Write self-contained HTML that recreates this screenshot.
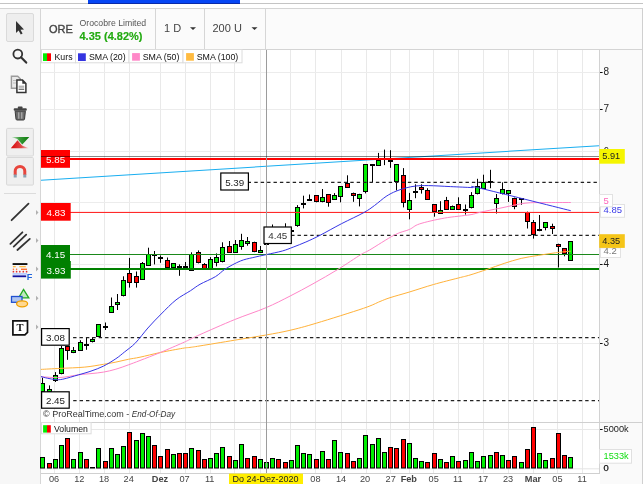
<!DOCTYPE html><html><head><meta charset="utf-8"><style>
html,body{margin:0;padding:0;background:#fff;width:644px;height:484px;overflow:hidden}
svg{display:block;font-family:"Liberation Sans", sans-serif;will-change:transform}
</style></head><body>
<svg width="644" height="484" viewBox="0 0 644 484">
<rect x="0" y="0" width="644" height="484" fill="#fff"/>

<rect x="0" y="3" width="643" height="1" fill="#c4c4c4"/>
<rect x="88" y="0" width="152" height="3" fill="#0646f5"/><rect x="88" y="3" width="152" height="1" fill="#0a2aa8"/>
<rect x="0" y="8" width="40" height="476" fill="#f7f7f7"/>
<rect x="0" y="8" width="643" height="1" fill="#d4d4d4"/>
<rect x="40" y="8" width="1" height="476" fill="#d6d6d6"/>
<rect x="41" y="9" width="601" height="40" fill="#fbfbfb"/>
<rect x="642" y="8" width="1" height="476" fill="#d0d0d0"/>
<rect x="41" y="49" width="601" height="1" fill="#d4d4d4"/>
<rect x="155" y="9" width="1" height="40" fill="#d6d6d6"/>
<rect x="204" y="9" width="1" height="40" fill="#d6d6d6"/>
<rect x="265" y="9" width="1" height="40" fill="#d6d6d6"/>
<text x="49" y="33.2" font-size="11" fill="#444" stroke="#444" stroke-width="0.35">ORE</text>
<text x="79.5" y="25.6" font-size="8.7" fill="#555">Orocobre Limited</text>
<text x="79.5" y="39.5" font-size="11" font-weight="bold" fill="#22aa10" stroke="#22aa10" stroke-width="0.15">4.35 (4.82%)</text>
<text x="164" y="32.1" font-size="11" fill="#444">1 D</text>
<path d="M190,27.3 L196,27.3 L193,30 Z" fill="#333"/>
<text x="212.5" y="32.1" font-size="11" fill="#444">200 U</text>
<path d="M251.5,27.3 L257.5,27.3 L254.5,30 Z" fill="#333"/>
<rect x="41" y="50" width="558" height="423" fill="#fff"/>
<rect x="600" y="50" width="42" height="434" fill="#fafafa"/>
<rect x="599" y="50" width="1" height="423" fill="#d2d2d2"/>
<rect x="54" y="50" width="1" height="423" fill="#e9e9e9"/>
<rect x="79" y="50" width="1" height="423" fill="#e9e9e9"/>
<rect x="104" y="50" width="1" height="423" fill="#e9e9e9"/>
<rect x="129" y="50" width="1" height="423" fill="#e9e9e9"/>
<rect x="160" y="50" width="1" height="423" fill="#e9e9e9"/>
<rect x="185" y="50" width="1" height="423" fill="#e9e9e9"/>
<rect x="210" y="50" width="1" height="423" fill="#e9e9e9"/>
<rect x="234" y="50" width="1" height="423" fill="#e9e9e9"/>
<rect x="260" y="50" width="1" height="423" fill="#e9e9e9"/>
<rect x="290" y="50" width="1" height="423" fill="#e9e9e9"/>
<rect x="315" y="50" width="1" height="423" fill="#e9e9e9"/>
<rect x="341" y="50" width="1" height="423" fill="#e9e9e9"/>
<rect x="366" y="50" width="1" height="423" fill="#e9e9e9"/>
<rect x="390" y="50" width="1" height="423" fill="#e9e9e9"/>
<rect x="409" y="50" width="1" height="423" fill="#e9e9e9"/>
<rect x="433" y="50" width="1" height="423" fill="#e9e9e9"/>
<rect x="458" y="50" width="1" height="423" fill="#e9e9e9"/>
<rect x="483" y="50" width="1" height="423" fill="#e9e9e9"/>
<rect x="508" y="50" width="1" height="423" fill="#e9e9e9"/>
<rect x="533" y="50" width="1" height="423" fill="#e9e9e9"/>
<rect x="557" y="50" width="1" height="423" fill="#e9e9e9"/>
<rect x="582" y="50" width="1" height="423" fill="#e9e9e9"/>
<rect x="41" y="72" width="558" height="1" fill="#ececec"/>
<rect x="41" y="109" width="558" height="1" fill="#ececec"/>
<rect x="41" y="151" width="558" height="1" fill="#ececec"/>
<rect x="41" y="202" width="558" height="1" fill="#ececec"/>
<rect x="41" y="264" width="558" height="1" fill="#ececec"/>
<rect x="41" y="343" width="558" height="1" fill="#ececec"/>
<rect x="41" y="422" width="601" height="1" fill="#d0d0d0"/>
<rect x="41" y="429" width="558" height="1" fill="#e8e8e8"/>
<rect x="41" y="468.3" width="558" height="1" fill="#e4e4e4"/>
<rect x="41" y="473" width="559" height="1" fill="#d0d0d0"/>
<rect x="41" y="474" width="559" height="10" fill="#fff"/>
<rect x="600" y="72" width="2.6" height="1" fill="#111"/>
<text x="603.6" y="75.0" font-size="10" fill="#1a1a1a">8</text>
<rect x="600" y="109" width="2.6" height="1" fill="#111"/>
<text x="603.6" y="112.0" font-size="10" fill="#1a1a1a">7</text>
<rect x="600" y="152" width="2.6" height="1" fill="#111"/>
<text x="603.6" y="155.0" font-size="10" fill="#1a1a1a">6</text>
<rect x="600" y="264" width="2.6" height="1" fill="#111"/>
<text x="603.6" y="267.0" font-size="10" fill="#1a1a1a">4</text>
<rect x="600" y="343" width="2.6" height="1" fill="#111"/>
<text x="603.6" y="346.0" font-size="10" fill="#1a1a1a">3</text>
<rect x="600" y="429" width="2.6" height="1" fill="#111"/>
<text x="603.6" y="431.9" font-size="9.2" fill="#1a1a1a">5000k</text>
<text x="603.6" y="470.7" font-size="9.4" fill="#111" stroke="#111" stroke-width="0.25">0</text>
<defs><clipPath id="cc"><rect x="41" y="50" width="558" height="423"/></clipPath></defs><g clip-path="url(#cc)">
<rect x="42" y="377.7" width="1" height="14.3" fill="#000"/>
<rect x="40.5" y="383.5" width="4" height="8" fill="#00ee00" stroke="#000" stroke-width="1"/>
<rect x="49" y="385.4" width="1" height="7.6" fill="#000"/>
<rect x="47.5" y="389.5" width="4" height="2" fill="#00ee00" stroke="#000" stroke-width="1"/>
<rect x="55" y="372.1" width="1" height="9.9" fill="#000"/>
<rect x="53.5" y="375.5" width="4" height="5" fill="#00ee00" stroke="#000" stroke-width="1"/>
<rect x="61" y="346.0" width="1" height="28.3" fill="#000"/>
<rect x="59.5" y="348.5" width="4" height="25" fill="#00ee00" stroke="#000" stroke-width="1"/>
<rect x="67" y="346.0" width="1" height="13.8" fill="#000"/>
<rect x="65.5" y="346.5" width="4" height="4" fill="#ff0000" stroke="#000" stroke-width="1"/>
<rect x="73" y="347.0" width="1" height="6.1" fill="#000"/>
<rect x="71.5" y="350.5" width="4" height="2" fill="#00ee00" stroke="#000" stroke-width="1"/>
<rect x="80" y="340.2" width="1" height="10.5" fill="#000"/>
<rect x="78.5" y="342.5" width="4" height="8" fill="#00ee00" stroke="#000" stroke-width="1"/>
<rect x="86" y="337.4" width="1" height="12.4" fill="#000"/>
<rect x="84.5" y="344.5" width="4" height="1" fill="#ff0000" stroke="#000" stroke-width="1"/>
<rect x="92" y="337.2" width="1" height="5.2" fill="#000"/>
<rect x="90.5" y="339.5" width="4" height="2" fill="#00ee00" stroke="#000" stroke-width="1"/>
<rect x="98" y="324.3" width="1" height="12.5" fill="#000"/>
<rect x="96.5" y="324.5" width="4" height="12" fill="#00ee00" stroke="#000" stroke-width="1"/>
<rect x="105" y="322.5" width="1" height="7.5" fill="#000"/>
<rect x="103.5" y="326.5" width="4" height="1" fill="#ff0000" stroke="#000" stroke-width="1"/>
<rect x="111" y="297.5" width="1" height="15.2" fill="#000"/>
<rect x="109.5" y="306.5" width="4" height="6" fill="#00ee00" stroke="#000" stroke-width="1"/>
<rect x="117" y="294.0" width="1" height="16.0" fill="#000"/>
<rect x="115.5" y="302.5" width="4" height="2" fill="#00ee00" stroke="#000" stroke-width="1"/>
<rect x="123" y="276.3" width="1" height="20.1" fill="#000"/>
<rect x="121.5" y="280.5" width="4" height="15" fill="#00ee00" stroke="#000" stroke-width="1"/>
<rect x="129" y="257.9" width="1" height="29.7" fill="#000"/>
<rect x="127.5" y="273.5" width="4" height="9" fill="#ff0000" stroke="#000" stroke-width="1"/>
<rect x="136" y="271.5" width="1" height="16.1" fill="#000"/>
<rect x="134.5" y="276.5" width="4" height="6" fill="#ff0000" stroke="#000" stroke-width="1"/>
<rect x="142" y="262.0" width="1" height="17.5" fill="#000"/>
<rect x="140.5" y="263.5" width="4" height="16" fill="#00ee00" stroke="#000" stroke-width="1"/>
<rect x="148" y="247.7" width="1" height="18.2" fill="#000"/>
<rect x="146.5" y="254.5" width="4" height="11" fill="#00ee00" stroke="#000" stroke-width="1"/>
<rect x="154" y="251.0" width="1" height="13.4" fill="#000"/>
<rect x="152.5" y="254.5" width="4" height="1" fill="#2a6a2a" stroke="#000" stroke-width="1"/>
<rect x="160" y="255.4" width="1" height="7.4" fill="#000"/>
<rect x="158.5" y="257.5" width="4" height="1" fill="#ff0000" stroke="#000" stroke-width="1"/>
<rect x="167" y="257.5" width="1" height="10.3" fill="#000"/>
<rect x="165.5" y="260.5" width="4" height="7" fill="#ff0000" stroke="#000" stroke-width="1"/>
<rect x="173" y="263.4" width="1" height="4.7" fill="#000"/>
<rect x="171.5" y="263.5" width="4" height="4" fill="#00ee00" stroke="#000" stroke-width="1"/>
<rect x="179" y="264.4" width="1" height="11.4" fill="#000"/>
<rect x="177.5" y="266.5" width="4" height="1" fill="#2a6a2a" stroke="#000" stroke-width="1"/>
<rect x="185" y="262.0" width="1" height="6.4" fill="#000"/>
<rect x="183.5" y="266.5" width="4" height="1" fill="#2a6a2a" stroke="#000" stroke-width="1"/>
<rect x="191" y="252.3" width="1" height="18.3" fill="#000"/>
<rect x="189.5" y="254.5" width="4" height="16" fill="#00ee00" stroke="#000" stroke-width="1"/>
<rect x="198" y="250.4" width="1" height="13.0" fill="#000"/>
<rect x="196.5" y="252.5" width="4" height="10" fill="#ff0000" stroke="#000" stroke-width="1"/>
<rect x="204" y="263.1" width="1" height="5.5" fill="#000"/>
<rect x="202.5" y="264.5" width="4" height="4" fill="#ff0000" stroke="#000" stroke-width="1"/>
<rect x="210" y="257.1" width="1" height="11.5" fill="#000"/>
<rect x="208.5" y="259.5" width="4" height="9" fill="#00ee00" stroke="#000" stroke-width="1"/>
<rect x="216" y="253.4" width="1" height="13.0" fill="#000"/>
<rect x="214.5" y="257.5" width="4" height="5" fill="#00ee00" stroke="#000" stroke-width="1"/>
<rect x="222" y="242.3" width="1" height="20.1" fill="#000"/>
<rect x="220.5" y="247.5" width="4" height="14" fill="#00ee00" stroke="#000" stroke-width="1"/>
<rect x="229" y="241.0" width="1" height="11.6" fill="#000"/>
<rect x="227.5" y="246.5" width="4" height="6" fill="#ff0000" stroke="#000" stroke-width="1"/>
<rect x="235" y="240.0" width="1" height="12.6" fill="#000"/>
<rect x="233.5" y="244.5" width="4" height="8" fill="#00ee00" stroke="#000" stroke-width="1"/>
<rect x="241" y="233.8" width="1" height="15.9" fill="#000"/>
<rect x="239.5" y="240.5" width="4" height="6" fill="#00ee00" stroke="#000" stroke-width="1"/>
<rect x="247" y="237.0" width="1" height="8.7" fill="#000"/>
<rect x="245.5" y="241.5" width="4" height="2" fill="#00ee00" stroke="#000" stroke-width="1"/>
<rect x="254" y="241.7" width="1" height="10.5" fill="#000"/>
<rect x="252.5" y="242.5" width="4" height="9" fill="#ff0000" stroke="#000" stroke-width="1"/>
<rect x="260" y="246.0" width="1" height="6.6" fill="#000"/>
<rect x="258.5" y="250.5" width="4" height="2" fill="#00ee00" stroke="#000" stroke-width="1"/>
<rect x="266" y="238.0" width="1" height="12.6" fill="#000"/>
<rect x="264.5" y="243.5" width="4" height="1" fill="#000" stroke="#000" stroke-width="1"/>
<rect x="272" y="224.5" width="1" height="15.5" fill="#000"/>
<rect x="270.5" y="230.5" width="4" height="7" fill="#00ee00" stroke="#000" stroke-width="1"/>
<rect x="278" y="228.0" width="1" height="10.0" fill="#000"/>
<rect x="276.5" y="232.5" width="4" height="3" fill="#00ee00" stroke="#000" stroke-width="1"/>
<rect x="285" y="223.3" width="1" height="12.7" fill="#000"/>
<rect x="283.5" y="228.5" width="4" height="5" fill="#ff0000" stroke="#000" stroke-width="1"/>
<rect x="291" y="228.0" width="1" height="6.0" fill="#000"/>
<rect x="289.5" y="230.5" width="4" height="1" fill="#00ee00" stroke="#000" stroke-width="1"/>
<rect x="297" y="205.1" width="1" height="21.7" fill="#000"/>
<rect x="295.5" y="207.5" width="4" height="18" fill="#00ee00" stroke="#000" stroke-width="1"/>
<rect x="303" y="195.7" width="1" height="12.7" fill="#000"/>
<rect x="301.5" y="203.5" width="4" height="1" fill="#ff0000" stroke="#000" stroke-width="1"/>
<rect x="309" y="194.5" width="1" height="6.5" fill="#000"/>
<rect x="307.5" y="199.5" width="4" height="1" fill="#2a6a2a" stroke="#000" stroke-width="1"/>
<rect x="316" y="195.3" width="1" height="7.0" fill="#000"/>
<rect x="314.5" y="195.5" width="4" height="6" fill="#ff0000" stroke="#000" stroke-width="1"/>
<rect x="322" y="189.0" width="1" height="13.3" fill="#000"/>
<rect x="320.5" y="197.5" width="4" height="4" fill="#00ee00" stroke="#000" stroke-width="1"/>
<rect x="328" y="194.4" width="1" height="12.3" fill="#000"/>
<rect x="326.5" y="194.5" width="4" height="8" fill="#ff0000" stroke="#000" stroke-width="1"/>
<rect x="334" y="193.1" width="1" height="6.5" fill="#000"/>
<rect x="332.5" y="195.5" width="4" height="4" fill="#00ee00" stroke="#000" stroke-width="1"/>
<rect x="340" y="186.4" width="1" height="15.9" fill="#000"/>
<rect x="338.5" y="186.5" width="4" height="10" fill="#00ee00" stroke="#000" stroke-width="1"/>
<rect x="347" y="175.3" width="1" height="12.3" fill="#000"/>
<rect x="345.5" y="183.5" width="4" height="4" fill="#ff0000" stroke="#000" stroke-width="1"/>
<rect x="353" y="192.6" width="1" height="9.2" fill="#000"/>
<rect x="351.5" y="193.5" width="4" height="2" fill="#ff0000" stroke="#000" stroke-width="1"/>
<rect x="359" y="193.8" width="1" height="12.6" fill="#000"/>
<rect x="357.5" y="194.5" width="4" height="4" fill="#00ee00" stroke="#000" stroke-width="1"/>
<rect x="365" y="164.2" width="1" height="29.2" fill="#000"/>
<rect x="363.5" y="164.5" width="4" height="27" fill="#00ee00" stroke="#000" stroke-width="1"/>
<rect x="372" y="164.6" width="1" height="17.5" fill="#000"/>
<rect x="370.5" y="164.5" width="4" height="1" fill="#00ee00" stroke="#000" stroke-width="1"/>
<rect x="378" y="152.9" width="1" height="12.7" fill="#000"/>
<rect x="376.5" y="160.5" width="4" height="5" fill="#00ee00" stroke="#000" stroke-width="1"/>
<rect x="384" y="149.6" width="1" height="15.5" fill="#000"/>
<rect x="382.5" y="158.5" width="4" height="1" fill="#2a6a2a" stroke="#000" stroke-width="1"/>
<rect x="390" y="150.2" width="1" height="17.6" fill="#000"/>
<rect x="388.5" y="160.5" width="4" height="1" fill="#2a6a2a" stroke="#000" stroke-width="1"/>
<rect x="396" y="164.0" width="1" height="26.4" fill="#000"/>
<rect x="394.5" y="164.5" width="4" height="17" fill="#00ee00" stroke="#000" stroke-width="1"/>
<rect x="403" y="168.1" width="1" height="39.3" fill="#000"/>
<rect x="401.5" y="175.5" width="4" height="27" fill="#ff0000" stroke="#000" stroke-width="1"/>
<rect x="409" y="192.9" width="1" height="26.4" fill="#000"/>
<rect x="407.5" y="200.5" width="4" height="9" fill="#00ee00" stroke="#000" stroke-width="1"/>
<rect x="415" y="184.3" width="1" height="13.9" fill="#000"/>
<rect x="413.5" y="191.5" width="4" height="1" fill="#00ee00" stroke="#000" stroke-width="1"/>
<rect x="421" y="184.3" width="1" height="9.3" fill="#000"/>
<rect x="419.5" y="187.5" width="4" height="2" fill="#ff0000" stroke="#000" stroke-width="1"/>
<rect x="427" y="188.2" width="1" height="11.6" fill="#000"/>
<rect x="425.5" y="190.5" width="4" height="9" fill="#ff0000" stroke="#000" stroke-width="1"/>
<rect x="434" y="204.5" width="1" height="12.2" fill="#000"/>
<rect x="432.5" y="204.5" width="4" height="7" fill="#ff0000" stroke="#000" stroke-width="1"/>
<rect x="440" y="201.2" width="1" height="12.6" fill="#000"/>
<rect x="438.5" y="210.5" width="4" height="3" fill="#00ee00" stroke="#000" stroke-width="1"/>
<rect x="446" y="196.9" width="1" height="13.0" fill="#000"/>
<rect x="444.5" y="200.5" width="4" height="9" fill="#ff0000" stroke="#000" stroke-width="1"/>
<rect x="452" y="205.5" width="1" height="4.4" fill="#000"/>
<rect x="450.5" y="206.5" width="4" height="3" fill="#00ee00" stroke="#000" stroke-width="1"/>
<rect x="458" y="197.3" width="1" height="12.6" fill="#000"/>
<rect x="456.5" y="204.5" width="4" height="5" fill="#ff0000" stroke="#000" stroke-width="1"/>
<rect x="465" y="204.5" width="1" height="10.1" fill="#000"/>
<rect x="463.5" y="209.5" width="4" height="1" fill="#00ee00" stroke="#000" stroke-width="1"/>
<rect x="471" y="192.1" width="1" height="16.3" fill="#000"/>
<rect x="469.5" y="195.5" width="4" height="12" fill="#00ee00" stroke="#000" stroke-width="1"/>
<rect x="477" y="178.8" width="1" height="15.6" fill="#000"/>
<rect x="475.5" y="186.5" width="4" height="7" fill="#00ee00" stroke="#000" stroke-width="1"/>
<rect x="483" y="174.7" width="1" height="13.9" fill="#000"/>
<rect x="481.5" y="182.5" width="4" height="6" fill="#00ee00" stroke="#000" stroke-width="1"/>
<rect x="490" y="169.8" width="1" height="18.4" fill="#000"/>
<rect x="488.5" y="181.5" width="4" height="1" fill="#ff0000" stroke="#000" stroke-width="1"/>
<rect x="496" y="194.0" width="1" height="19.5" fill="#000"/>
<rect x="494.5" y="198.5" width="4" height="5" fill="#00ee00" stroke="#000" stroke-width="1"/>
<rect x="502" y="182.4" width="1" height="12.0" fill="#000"/>
<rect x="500.5" y="189.5" width="4" height="4" fill="#00ee00" stroke="#000" stroke-width="1"/>
<rect x="508" y="190.4" width="1" height="11.5" fill="#000"/>
<rect x="506.5" y="190.5" width="4" height="3" fill="#00ee00" stroke="#000" stroke-width="1"/>
<rect x="514" y="197.6" width="1" height="11.6" fill="#000"/>
<rect x="512.5" y="198.5" width="4" height="8" fill="#ff0000" stroke="#000" stroke-width="1"/>
<rect x="521" y="198.3" width="1" height="6.5" fill="#000"/>
<rect x="519.5" y="198.5" width="4" height="1" fill="#00ee00" stroke="#000" stroke-width="1"/>
<rect x="527" y="211.6" width="1" height="16.9" fill="#000"/>
<rect x="525.5" y="212.5" width="4" height="9" fill="#ff0000" stroke="#000" stroke-width="1"/>
<rect x="533" y="220.0" width="1" height="18.6" fill="#000"/>
<rect x="531.5" y="222.5" width="4" height="12" fill="#ff0000" stroke="#000" stroke-width="1"/>
<rect x="539" y="215.0" width="1" height="16.2" fill="#000"/>
<rect x="537.5" y="229.5" width="4" height="1" fill="#00ee00" stroke="#000" stroke-width="1"/>
<rect x="545" y="222.4" width="1" height="7.9" fill="#000"/>
<rect x="543.5" y="222.5" width="4" height="5" fill="#00ee00" stroke="#000" stroke-width="1"/>
<rect x="552" y="223.7" width="1" height="10.3" fill="#000"/>
<rect x="550.5" y="226.5" width="4" height="2" fill="#ff0000" stroke="#000" stroke-width="1"/>
<rect x="558" y="243.7" width="1" height="23.8" fill="#000"/>
<rect x="556.5" y="244.5" width="4" height="2" fill="#ff0000" stroke="#000" stroke-width="1"/>
<rect x="564" y="248.5" width="1" height="7.8" fill="#000"/>
<rect x="562.5" y="248.5" width="4" height="5" fill="#ff0000" stroke="#000" stroke-width="1"/>
<rect x="570" y="241.0" width="1" height="20.0" fill="#000"/>
<rect x="568.5" y="241.5" width="4" height="19" fill="#00ee00" stroke="#000" stroke-width="1"/>
</g>
<line x1="41" y1="180.2" x2="599" y2="145.7" stroke="#19aef0" stroke-width="1.05"/>
<rect x="41" y="158" width="558" height="2" fill="#ff0000"/>
<rect x="41" y="211.9" width="558" height="1.1" fill="#ff2a2a"/>
<rect x="41" y="254" width="558" height="1" fill="#1a881a"/>
<rect x="41" y="268" width="558" height="2" fill="#008000"/>
<line x1="254.3" y1="182.4" x2="599" y2="182.4" stroke="#222" stroke-width="1.25" stroke-dasharray="3.4 3.0"/>
<line x1="291.1" y1="235.4" x2="599" y2="235.4" stroke="#222" stroke-width="1.25" stroke-dasharray="3.4 3.0"/>
<line x1="73.1" y1="337.5" x2="599" y2="337.5" stroke="#222" stroke-width="1.25" stroke-dasharray="3.4 3.0"/>
<line x1="73.2" y1="400.5" x2="599" y2="400.5" stroke="#222" stroke-width="1.25" stroke-dasharray="3.4 3.0"/>
<line x1="249" y1="182.4" x2="251" y2="182.4" stroke="#222" stroke-width="1.4"/>
<path d="M41.00,369.40 C44.17,369.23 52.70,368.78 60.00,368.40 C67.30,368.02 77.55,367.78 84.80,367.10 C92.05,366.42 98.32,365.13 103.50,364.30 C108.68,363.47 111.77,362.93 115.90,362.10 C120.03,361.27 124.28,360.12 128.30,359.30 C132.32,358.48 134.67,358.33 140.00,357.20 C145.33,356.07 153.20,353.98 160.30,352.50 C167.40,351.02 177.65,349.15 182.60,348.30 C187.55,347.45 187.10,347.80 190.00,347.40 C192.90,347.00 192.57,347.10 200.00,345.90 C207.43,344.70 223.60,342.02 234.60,340.20 C245.60,338.38 256.77,336.65 266.00,335.00 C275.23,333.35 281.62,332.27 290.00,330.30 C298.38,328.33 304.05,326.87 316.30,323.20 C328.55,319.53 352.88,311.92 363.50,308.30 C374.12,304.68 375.58,303.27 380.00,301.50 C384.42,299.73 385.10,299.28 390.00,297.70 C394.90,296.12 402.15,294.20 409.40,292.00 C416.65,289.80 425.35,286.83 433.50,284.50 C441.65,282.17 452.22,279.58 458.30,278.00 C464.38,276.42 465.20,276.43 470.00,275.00 C474.80,273.57 481.40,271.33 487.10,269.40 C492.80,267.47 498.52,265.23 504.20,263.40 C509.88,261.57 515.52,259.73 521.20,258.40 C526.88,257.07 532.60,256.33 538.30,255.40 C544.00,254.47 549.98,253.52 555.40,252.80 C560.82,252.08 568.23,251.38 570.80,251.10" fill="none" stroke="#ffb23a" stroke-width="1"/>
<path d="M41.00,376.70 C44.17,376.83 53.73,377.82 60.00,377.50 C66.27,377.18 73.43,375.45 78.60,374.80 C83.77,374.15 86.85,374.05 91.00,373.60 C95.15,373.15 99.35,372.83 103.50,372.10 C107.65,371.37 111.77,370.40 115.90,369.20 C120.03,368.00 124.28,366.35 128.30,364.90 C132.32,363.45 134.67,362.57 140.00,360.50 C145.33,358.43 153.20,355.43 160.30,352.50 C167.40,349.57 177.65,345.08 182.60,342.90 C187.55,340.72 187.10,340.78 190.00,339.40 C192.90,338.02 192.57,337.90 200.00,334.60 C207.43,331.30 223.60,324.08 234.60,319.60 C245.60,315.12 256.77,311.62 266.00,307.70 C275.23,303.78 282.17,300.08 290.00,296.10 C297.83,292.12 305.02,288.25 313.00,283.80 C320.98,279.35 329.90,274.28 337.90,269.40 C345.90,264.52 355.72,257.73 361.00,254.50 C366.28,251.27 364.00,253.27 369.60,250.00 C375.20,246.73 387.98,238.32 394.60,234.90 C401.22,231.48 405.13,231.33 409.30,229.50 C413.47,227.67 413.75,225.80 419.60,223.90 C425.45,222.00 436.00,219.62 444.40,218.10 C452.80,216.58 464.07,215.77 470.00,214.80 C475.93,213.83 475.00,213.40 480.00,212.30 C485.00,211.20 492.50,209.72 500.00,208.20 C507.50,206.68 517.50,204.13 525.00,203.20 C532.50,202.27 537.37,202.72 545.00,202.60 C552.63,202.48 566.50,202.52 570.80,202.50" fill="none" stroke="#ff86c8" stroke-width="1"/>
<path d="M41.00,376.60 C42.05,376.87 44.95,377.72 47.30,378.20 C49.65,378.68 52.52,379.33 55.10,379.50 C57.68,379.67 58.88,379.98 62.80,379.20 C66.72,378.42 73.90,376.15 78.60,374.80 C83.30,373.45 86.85,372.55 91.00,371.10 C95.15,369.65 99.35,368.17 103.50,366.10 C107.65,364.03 112.40,361.05 115.90,358.70 C119.40,356.35 121.23,354.63 124.50,352.00 C127.77,349.37 131.60,346.90 135.50,342.90 C139.40,338.90 143.62,332.82 147.90,328.00 C152.18,323.18 156.52,318.68 161.20,314.00 C165.88,309.32 171.12,303.78 176.00,299.90 C180.88,296.02 186.50,293.30 190.50,290.70 C194.50,288.10 195.83,286.65 200.00,284.30 C204.17,281.95 211.23,279.18 215.50,276.60 C219.77,274.02 221.45,271.40 225.60,268.80 C229.75,266.20 235.87,262.87 240.40,261.00 C244.93,259.13 248.40,258.68 252.80,257.60 C257.20,256.52 261.88,255.60 266.80,254.50 C271.72,253.40 277.90,252.23 282.30,251.00 C286.70,249.77 289.27,248.60 293.20,247.10 C297.13,245.60 301.43,243.97 305.90,242.00 C310.37,240.03 314.07,238.35 320.00,235.30 C325.93,232.25 334.20,227.48 341.50,223.70 C348.80,219.92 358.30,215.63 363.80,212.60 C369.30,209.57 370.78,208.20 374.50,205.50 C378.22,202.80 382.52,198.78 386.10,196.40 C389.68,194.02 392.68,192.62 396.00,191.20 C399.32,189.78 402.68,188.77 406.00,187.90 C409.32,187.03 412.12,186.38 415.90,186.00 C419.68,185.62 422.95,185.50 428.70,185.60 C434.45,185.70 443.15,186.27 450.40,186.60 C457.65,186.93 467.27,187.33 472.20,187.60 C477.13,187.87 463.57,184.35 480.00,188.20 C496.43,192.05 555.67,206.95 570.80,210.70" fill="none" stroke="#3636e6" stroke-width="1"/>
<rect x="40.5" y="457.5" width="4" height="10.5" fill="#00ee00" stroke="#000" stroke-width="1"/>
<rect x="47.5" y="463.5" width="4" height="4.5" fill="#ff0000" stroke="#000" stroke-width="1"/>
<rect x="53.5" y="459.5" width="4" height="8.5" fill="#00ee00" stroke="#000" stroke-width="1"/>
<rect x="59.5" y="445.5" width="4" height="22.5" fill="#00ee00" stroke="#000" stroke-width="1"/>
<rect x="65.5" y="438.5" width="4" height="29.5" fill="#ff0000" stroke="#000" stroke-width="1"/>
<rect x="71.5" y="459.5" width="4" height="8.5" fill="#00ee00" stroke="#000" stroke-width="1"/>
<rect x="78.5" y="452.5" width="4" height="15.5" fill="#00ee00" stroke="#000" stroke-width="1"/>
<rect x="84.5" y="459.5" width="4" height="8.5" fill="#ff0000" stroke="#000" stroke-width="1"/>
<rect x="90.5" y="467.5" width="4" height="0.5" fill="#00ee00" stroke="#000" stroke-width="1"/>
<rect x="96.5" y="448.5" width="4" height="19.5" fill="#00ee00" stroke="#000" stroke-width="1"/>
<rect x="103.5" y="461.5" width="4" height="6.5" fill="#ff0000" stroke="#000" stroke-width="1"/>
<rect x="109.5" y="448.5" width="4" height="19.5" fill="#00ee00" stroke="#000" stroke-width="1"/>
<rect x="115.5" y="454.5" width="4" height="13.5" fill="#00ee00" stroke="#000" stroke-width="1"/>
<rect x="121.5" y="446.5" width="4" height="21.5" fill="#00ee00" stroke="#000" stroke-width="1"/>
<rect x="127.5" y="432.5" width="4" height="35.5" fill="#ff0000" stroke="#000" stroke-width="1"/>
<rect x="134.5" y="440.5" width="4" height="27.5" fill="#00ee00" stroke="#000" stroke-width="1"/>
<rect x="140.5" y="433.5" width="4" height="34.5" fill="#00ee00" stroke="#000" stroke-width="1"/>
<rect x="146.5" y="436.5" width="4" height="31.5" fill="#00ee00" stroke="#000" stroke-width="1"/>
<rect x="152.5" y="445.5" width="4" height="22.5" fill="#ff0000" stroke="#000" stroke-width="1"/>
<rect x="158.5" y="456.5" width="4" height="11.5" fill="#ff0000" stroke="#000" stroke-width="1"/>
<rect x="165.5" y="449.5" width="4" height="18.5" fill="#ff0000" stroke="#000" stroke-width="1"/>
<rect x="171.5" y="454.5" width="4" height="13.5" fill="#00ee00" stroke="#000" stroke-width="1"/>
<rect x="177.5" y="453.5" width="4" height="14.5" fill="#ff0000" stroke="#000" stroke-width="1"/>
<rect x="183.5" y="453.5" width="4" height="14.5" fill="#ff0000" stroke="#000" stroke-width="1"/>
<rect x="189.5" y="448.5" width="4" height="19.5" fill="#00ee00" stroke="#000" stroke-width="1"/>
<rect x="196.5" y="450.5" width="4" height="17.5" fill="#ff0000" stroke="#000" stroke-width="1"/>
<rect x="202.5" y="459.5" width="4" height="8.5" fill="#ff0000" stroke="#000" stroke-width="1"/>
<rect x="208.5" y="458.5" width="4" height="9.5" fill="#00ee00" stroke="#000" stroke-width="1"/>
<rect x="214.5" y="453.5" width="4" height="14.5" fill="#00ee00" stroke="#000" stroke-width="1"/>
<rect x="220.5" y="447.5" width="4" height="20.5" fill="#00ee00" stroke="#000" stroke-width="1"/>
<rect x="227.5" y="456.5" width="4" height="11.5" fill="#ff0000" stroke="#000" stroke-width="1"/>
<rect x="233.5" y="460.5" width="4" height="7.5" fill="#00ee00" stroke="#000" stroke-width="1"/>
<rect x="239.5" y="444.5" width="4" height="23.5" fill="#00ee00" stroke="#000" stroke-width="1"/>
<rect x="245.5" y="458.5" width="4" height="9.5" fill="#ff0000" stroke="#000" stroke-width="1"/>
<rect x="252.5" y="456.5" width="4" height="11.5" fill="#ff0000" stroke="#000" stroke-width="1"/>
<rect x="258.5" y="459.5" width="4" height="8.5" fill="#00ee00" stroke="#000" stroke-width="1"/>
<rect x="264.5" y="462.5" width="4" height="5.5" fill="#00ee00" stroke="#000" stroke-width="1"/>
<rect x="270.5" y="458.5" width="4" height="9.5" fill="#00ee00" stroke="#000" stroke-width="1"/>
<rect x="276.5" y="459.5" width="4" height="8.5" fill="#ff0000" stroke="#000" stroke-width="1"/>
<rect x="283.5" y="462.5" width="4" height="5.5" fill="#ff0000" stroke="#000" stroke-width="1"/>
<rect x="289.5" y="460.5" width="4" height="7.5" fill="#00ee00" stroke="#000" stroke-width="1"/>
<rect x="295.5" y="445.5" width="4" height="22.5" fill="#00ee00" stroke="#000" stroke-width="1"/>
<rect x="301.5" y="453.5" width="4" height="14.5" fill="#00ee00" stroke="#000" stroke-width="1"/>
<rect x="307.5" y="454.5" width="4" height="13.5" fill="#00ee00" stroke="#000" stroke-width="1"/>
<rect x="314.5" y="459.5" width="4" height="8.5" fill="#ff0000" stroke="#000" stroke-width="1"/>
<rect x="320.5" y="451.5" width="4" height="16.5" fill="#00ee00" stroke="#000" stroke-width="1"/>
<rect x="326.5" y="459.5" width="4" height="8.5" fill="#ff0000" stroke="#000" stroke-width="1"/>
<rect x="332.5" y="440.5" width="4" height="27.5" fill="#00ee00" stroke="#000" stroke-width="1"/>
<rect x="338.5" y="452.5" width="4" height="15.5" fill="#00ee00" stroke="#000" stroke-width="1"/>
<rect x="345.5" y="453.5" width="4" height="14.5" fill="#ff0000" stroke="#000" stroke-width="1"/>
<rect x="351.5" y="461.5" width="4" height="6.5" fill="#ff0000" stroke="#000" stroke-width="1"/>
<rect x="357.5" y="458.5" width="4" height="9.5" fill="#00ee00" stroke="#000" stroke-width="1"/>
<rect x="363.5" y="435.5" width="4" height="32.5" fill="#00ee00" stroke="#000" stroke-width="1"/>
<rect x="370.5" y="444.5" width="4" height="23.5" fill="#00ee00" stroke="#000" stroke-width="1"/>
<rect x="376.5" y="438.5" width="4" height="29.5" fill="#00ee00" stroke="#000" stroke-width="1"/>
<rect x="382.5" y="452.5" width="4" height="15.5" fill="#00ee00" stroke="#000" stroke-width="1"/>
<rect x="388.5" y="447.5" width="4" height="20.5" fill="#ff0000" stroke="#000" stroke-width="1"/>
<rect x="394.5" y="448.5" width="4" height="19.5" fill="#ff0000" stroke="#000" stroke-width="1"/>
<rect x="401.5" y="439.5" width="4" height="28.5" fill="#ff0000" stroke="#000" stroke-width="1"/>
<rect x="407.5" y="443.5" width="4" height="24.5" fill="#00ee00" stroke="#000" stroke-width="1"/>
<rect x="413.5" y="458.5" width="4" height="9.5" fill="#00ee00" stroke="#000" stroke-width="1"/>
<rect x="419.5" y="461.5" width="4" height="6.5" fill="#00ee00" stroke="#000" stroke-width="1"/>
<rect x="425.5" y="462.5" width="4" height="5.5" fill="#ff0000" stroke="#000" stroke-width="1"/>
<rect x="432.5" y="453.5" width="4" height="14.5" fill="#ff0000" stroke="#000" stroke-width="1"/>
<rect x="438.5" y="459.5" width="4" height="8.5" fill="#00ee00" stroke="#000" stroke-width="1"/>
<rect x="444.5" y="462.5" width="4" height="5.5" fill="#ff0000" stroke="#000" stroke-width="1"/>
<rect x="450.5" y="456.5" width="4" height="11.5" fill="#00ee00" stroke="#000" stroke-width="1"/>
<rect x="456.5" y="461.5" width="4" height="6.5" fill="#ff0000" stroke="#000" stroke-width="1"/>
<rect x="463.5" y="460.5" width="4" height="7.5" fill="#00ee00" stroke="#000" stroke-width="1"/>
<rect x="469.5" y="452.5" width="4" height="15.5" fill="#00ee00" stroke="#000" stroke-width="1"/>
<rect x="475.5" y="461.5" width="4" height="6.5" fill="#00ee00" stroke="#000" stroke-width="1"/>
<rect x="481.5" y="456.5" width="4" height="11.5" fill="#00ee00" stroke="#000" stroke-width="1"/>
<rect x="488.5" y="455.5" width="4" height="12.5" fill="#00ee00" stroke="#000" stroke-width="1"/>
<rect x="494.5" y="452.5" width="4" height="15.5" fill="#ff0000" stroke="#000" stroke-width="1"/>
<rect x="500.5" y="455.5" width="4" height="12.5" fill="#00ee00" stroke="#000" stroke-width="1"/>
<rect x="506.5" y="460.5" width="4" height="7.5" fill="#ff0000" stroke="#000" stroke-width="1"/>
<rect x="512.5" y="456.5" width="4" height="11.5" fill="#ff0000" stroke="#000" stroke-width="1"/>
<rect x="519.5" y="462.5" width="4" height="5.5" fill="#00ee00" stroke="#000" stroke-width="1"/>
<rect x="525.5" y="449.5" width="4" height="18.5" fill="#ff0000" stroke="#000" stroke-width="1"/>
<rect x="531.5" y="427.5" width="4" height="40.5" fill="#ff0000" stroke="#000" stroke-width="1"/>
<rect x="537.5" y="453.5" width="4" height="14.5" fill="#00ee00" stroke="#000" stroke-width="1"/>
<rect x="543.5" y="460.5" width="4" height="7.5" fill="#00ee00" stroke="#000" stroke-width="1"/>
<rect x="550.5" y="458.5" width="4" height="9.5" fill="#ff0000" stroke="#000" stroke-width="1"/>
<rect x="556.5" y="433.5" width="4" height="34.5" fill="#ff0000" stroke="#000" stroke-width="1"/>
<rect x="562.5" y="455.5" width="4" height="12.5" fill="#ff0000" stroke="#000" stroke-width="1"/>
<rect x="568.5" y="457.5" width="4" height="10.5" fill="#00ee00" stroke="#000" stroke-width="1"/>
<rect x="266" y="50" width="1" height="423" fill="#9c9c9c"/>
<rect x="41" y="150" width="29" height="17.8" fill="#ff0000"/>
<text x="55.6" y="162.9" font-size="9.8" fill="#fff" text-anchor="middle">5.85</text>
<rect x="41" y="203" width="29.7" height="17.7" fill="#ff0000"/>
<text x="56.0" y="216" font-size="9.8" fill="#fff" text-anchor="middle">4.83</text>
<rect x="41" y="245" width="29" height="17" fill="#008000"/>
<text x="55.6" y="258.3" font-size="9.8" fill="#fff" text-anchor="middle">4.15</text>
<rect x="41" y="261" width="29.8" height="17.6" fill="#008000"/>
<text x="56.0" y="273.7" font-size="9.8" fill="#fff" text-anchor="middle">3.93</text>
<rect x="220.8" y="173" width="27.6" height="17" fill="#fff" stroke="#000" stroke-width="1.2"/>
<text x="234.7" y="185.8" font-size="9.8" fill="#222" text-anchor="middle">5.39</text>
<rect x="264" y="227" width="27.3" height="16.5" fill="#fff" stroke="#000" stroke-width="1.2"/>
<text x="277.8" y="239" font-size="9.8" fill="#333" text-anchor="middle">4.45</text>
<rect x="41.6" y="328.6" width="27.6" height="16.6" fill="#fff" stroke="#000" stroke-width="1.2"/>
<text x="55.5" y="340.9" font-size="9.8" fill="#222" text-anchor="middle">3.08</text>
<rect x="41.6" y="391.8" width="27.6" height="16.4" fill="#fff" stroke="#000" stroke-width="1.2"/>
<text x="55.5" y="403.9" font-size="9.8" fill="#222" text-anchor="middle">2.45</text>
<rect x="41" y="156" width="558" height="1" fill="#000" fill-opacity="0.47"/>
<rect x="599.2" y="149" width="25.6" height="14.7" fill="#f5f500"/>
<text x="611.3" y="158.9" font-size="9.2" fill="#222" text-anchor="middle">5.91</text>
<rect x="600.5" y="204.5" width="24" height="12.8" fill="#fff" stroke="#e2e2e2" stroke-width="1"/>
<text x="603.5" y="213" font-size="9.5" fill="#3a3ae8">4.85</text>
<rect x="599.5" y="194.5" width="13" height="12.3" fill="#fff" stroke="#e2e2e2" stroke-width="1"/>
<text x="603.5" y="204" font-size="9.5" fill="#ff66bb">5</text>
<rect x="600.5" y="247.9" width="20" height="9.6" fill="#fff" stroke="#e2e2e2" stroke-width="1"/>
<text x="603.5" y="253.9" font-size="9.5" fill="#777">4.2</text>
<rect x="599.2" y="234.2" width="25.6" height="13.7" fill="#f5c518"/>
<text x="611.3" y="244.3" font-size="9.2" fill="#222" text-anchor="middle">4.35</text>
<rect x="599.5" y="449.5" width="32" height="13.7" fill="#fff" stroke="#e0e0e0" stroke-width="1"/>
<text x="603.6" y="459" font-size="9.2" fill="#11dd11">1533k</text>
<rect x="41.5" y="49.5" width="34.0" height="13.3" fill="#fff" stroke="#dcdcdc" stroke-width="1"/>
<rect x="75.5" y="49.5" width="53.5" height="13.3" fill="#fff" stroke="#dcdcdc" stroke-width="1"/>
<rect x="129" y="49.5" width="54" height="13.3" fill="#fff" stroke="#dcdcdc" stroke-width="1"/>
<rect x="183" y="49.5" width="59" height="13.3" fill="#fff" stroke="#dcdcdc" stroke-width="1"/>
<rect x="43" y="53.3" width="4" height="7.7" fill="#00ee00"/><rect x="47" y="53.3" width="4" height="7.7" fill="#ff0000"/>
<text x="54.5" y="59.9" font-size="8.8" fill="#111">Kurs</text>
<rect x="78" y="53.3" width="7.8" height="7.7" fill="#3434e0"/>
<text x="89" y="59.9" font-size="8.8" fill="#111">SMA (20)</text>
<rect x="132.1" y="53.1" width="7.8" height="7.6" fill="#ff88c8"/>
<text x="142.7" y="59.9" font-size="8.8" fill="#111">SMA (50)</text>
<rect x="186.1" y="53.1" width="7.8" height="7.6" fill="#ffbb40"/>
<text x="196.7" y="59.9" font-size="8.8" fill="#111">SMA (100)</text>
<text x="43" y="416.8" font-size="9" fill="#333">© ProRealTime.com - <tspan font-style="italic" font-size="8.2">End-Of-Day</tspan></text>
<rect x="41.5" y="422.5" width="49.6" height="11.3" fill="#fff" stroke="#dcdcdc" stroke-width="1"/>
<rect x="43.1" y="425.2" width="3.9" height="7.4" fill="#00ee00"/><rect x="47" y="425.2" width="3.8" height="7.4" fill="#ff0000"/>
<text x="54" y="432" font-size="8.7" fill="#111">Volumen</text>
<text x="54.1" y="482" font-size="9.2" fill="#444" text-anchor="middle">06</text>
<text x="79.3" y="482" font-size="9.2" fill="#444" text-anchor="middle">12</text>
<text x="104.1" y="482" font-size="9.2" fill="#444" text-anchor="middle">18</text>
<text x="128.7" y="482" font-size="9.2" fill="#444" text-anchor="middle">24</text>
<text x="160" y="482" font-size="9.2" fill="#444" text-anchor="middle" font-weight="bold">Dez</text>
<text x="184.6" y="482" font-size="9.2" fill="#444" text-anchor="middle">07</text>
<text x="209.7" y="482" font-size="9.2" fill="#444" text-anchor="middle">11</text>
<text x="315.4" y="482" font-size="9.2" fill="#444" text-anchor="middle">08</text>
<text x="341" y="482" font-size="9.2" fill="#444" text-anchor="middle">14</text>
<text x="365.1" y="482" font-size="9.2" fill="#444" text-anchor="middle">20</text>
<text x="390.7" y="482" font-size="9.2" fill="#444" text-anchor="middle">27</text>
<text x="408.8" y="482" font-size="9.2" fill="#444" text-anchor="middle" font-weight="bold">Feb</text>
<text x="433.7" y="482" font-size="9.2" fill="#444" text-anchor="middle">05</text>
<text x="457.8" y="482" font-size="9.2" fill="#444" text-anchor="middle">11</text>
<text x="483" y="482" font-size="9.2" fill="#444" text-anchor="middle">17</text>
<text x="508" y="482" font-size="9.2" fill="#444" text-anchor="middle">23</text>
<text x="533" y="482" font-size="9.2" fill="#444" text-anchor="middle" font-weight="bold">Mar</text>
<text x="557.4" y="482" font-size="9.2" fill="#444" text-anchor="middle">05</text>
<text x="582" y="482" font-size="9.2" fill="#444" text-anchor="middle">11</text>
<rect x="229" y="473.6" width="74" height="10.4" fill="#ffee00"/>
<text x="265.5" y="482" font-size="9" fill="#222" text-anchor="middle">Do 24-Dez-2020</text>
<rect x="6.5" y="13.5" width="27" height="28" rx="1.5" fill="#eeeeee" stroke="#dadada" stroke-width="1"/>
<path d="M16,21 L16,33 L18.6,30.6 L20.8,34.6 L22.6,33.6 L20.5,29.8 L24,29.6 Z" fill="#333"/>
<circle cx="17.8" cy="54.1" r="4.4" fill="none" stroke="#333" stroke-width="1.8"/><line x1="21" y1="57.3" x2="26.2" y2="62.6" stroke="#333" stroke-width="2.2" stroke-linecap="round"/>
<path d="M11.4,76.2 h6.3 l2.6,2.6 v9.4 h-8.9 z" fill="#e9e9e9" stroke="#9c9c9c" stroke-width="1.4"/>
<rect x="13" y="80" width="3" height="1" fill="#bbb"/><rect x="13" y="82.5" width="3" height="1" fill="#bbb"/>
<path d="M16.9,80.1 h5.6 l3.4,3.4 v9 h-9 z" fill="#fff" stroke="#333" stroke-width="1.5"/>
<path d="M22.3,80.1 v3.6 h3.6 z" fill="#333"/>
<rect x="18.6" y="85.6" width="5.6" height="2.2" fill="#b4b4b4"/><rect x="18.6" y="88.7" width="5.6" height="1.1" fill="#555"/>
<rect x="17.8" y="106.5" width="4.8" height="2.4" rx="0.8" fill="#444"/>
<rect x="13.7" y="108.3" width="13.1" height="2.4" rx="1" fill="#444"/>
<path d="M15.1,111.2 h10.3 l-0.9,8 q-0.2,0.8 -1,0.8 h-6.5 q-0.8,0 -1,-0.8 z" fill="#6c6c6c" stroke="#3c3c3c" stroke-width="1"/>
<rect x="18.3" y="112.3" width="1" height="6.4" fill="#bdbdbd"/><rect x="21.3" y="112.3" width="1" height="6.4" fill="#bdbdbd"/>
<rect x="6.6" y="128.4" width="26.8" height="27.6" rx="1" fill="#efefef" stroke="#d8d8d8" stroke-width="1"/>
<rect x="6.6" y="157.5" width="26.8" height="27.6" rx="1" fill="#efefef" stroke="#d8d8d8" stroke-width="1"/>
<defs><linearGradient id="gg" x1="0" x2="1"><stop offset="0" stop-color="#c8e8c8"/><stop offset="0.45" stop-color="#3a9a3a"/><stop offset="1" stop-color="#0a7a0a"/></linearGradient><linearGradient id="rg" x1="0" x2="1"><stop offset="0" stop-color="#d80808"/><stop offset="0.6" stop-color="#e04848"/><stop offset="1" stop-color="#f4c8c8"/></linearGradient></defs>
<path d="M11.4,137.1 L29.3,137.1 L22.3,144.4 L17.3,139 Z" fill="url(#gg)"/>
<path d="M10.8,148.2 L17.5,140.3 L22,145.4 L28.7,148.2 Z" fill="url(#rg)"/>
<path d="M15.2,175 V171.2 A4.8,4.8 0 0 1 24.8,171.2 V175" fill="none" stroke="#e8453c" stroke-width="3"/>
<rect x="13.7" y="174.5" width="3" height="3" fill="#8aa0b0"/><rect x="23.3" y="174.5" width="3" height="3" fill="#8aa0b0"/>
<rect x="4" y="193" width="32" height="1" fill="#dcdcdc"/>
<line x1="11.6" y1="220.2" x2="28.5" y2="203.6" stroke="#333" stroke-width="1.8" stroke-linecap="round"/>
<line x1="10.4" y1="243.8" x2="22.4" y2="232.3" stroke="#333" stroke-width="1.8" stroke-linecap="round"/>
<line x1="13.7" y1="246.6" x2="26.2" y2="234.7" stroke="#333" stroke-width="1.8" stroke-linecap="round"/>
<line x1="17.4" y1="250" x2="29.8" y2="238.9" stroke="#333" stroke-width="1.8" stroke-linecap="round"/>
<path d="M36,209.9 L38.5,212.4 L36,214.9 Z" fill="#b0b0b0"/>
<path d="M36,238.0 L38.5,240.5 L36,243.0 Z" fill="#b0b0b0"/>
<path d="M36,266.5 L38.5,269 L36,271.5 Z" fill="#b0b0b0"/>
<path d="M36,295.8 L38.5,298.3 L36,300.8 Z" fill="#b0b0b0"/>
<path d="M36,324.5 L38.5,327 L36,329.5 Z" fill="#b0b0b0"/>
<rect x="12.6" y="263.1" width="14.8" height="1.9" fill="#111"/>
<rect x="12.9" y="266" width="2.8" height="1.3" fill="#ffbb44"/><rect x="19.3" y="266" width="6.5" height="1.3" fill="#ffbb44"/>
<circle cx="13.4" cy="269.3" r="0.8" fill="#ff7030"/><circle cx="16.6" cy="269.3" r="0.8" fill="#ff7030"/><rect x="21" y="268.6" width="6" height="1.4" fill="#ff7030"/>
<circle cx="13.4" cy="271.7" r="0.85" fill="#e03030"/>
<circle cx="16.6" cy="271.7" r="0.85" fill="#e03030"/>
<circle cx="19.8" cy="271.7" r="0.85" fill="#e03030"/>
<circle cx="23.3" cy="271.7" r="0.85" fill="#e03030"/>
<circle cx="26.6" cy="271.7" r="0.85" fill="#e03030"/>
<rect x="12.6" y="273" width="14.4" height="1.8" fill="#b8ccff"/>
<rect x="12.6" y="275.4" width="13.6" height="1.8" fill="#1010a0"/>
<text x="26.8" y="279.9" font-size="9.2" font-weight="bold" fill="#2266dd">F</text>
<path d="M23.5,289.4 L28.8,297.8 L18.6,297.8 Z" fill="#bfe9bf" stroke="#22aa22" stroke-width="1.3"/>
<rect x="11.5" y="296.5" width="10.5" height="5.8" fill="#aec4f0" stroke="#2050d0" stroke-width="1.3"/>
<ellipse cx="22.1" cy="303.8" rx="5.5" ry="3" fill="#ffd890" stroke="#f0a000" stroke-width="1.3"/>
<path d="M12.9,320.9 h14.6 v11.4 l-2.6,2.6 h-12 z" fill="#fff" stroke="#111" stroke-width="1.7"/>
<text x="20" y="331" font-size="10.5" font-weight="bold" fill="#111" text-anchor="middle" font-family="Liberation Serif">T</text>
</svg></body></html>
